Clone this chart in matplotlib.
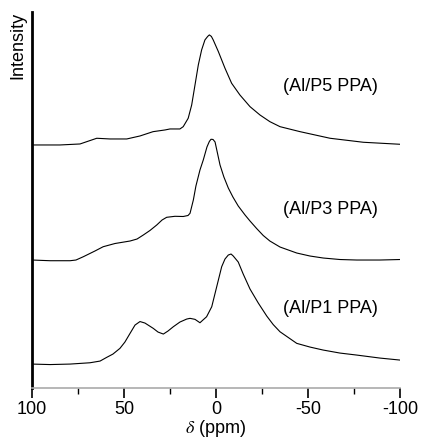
import matplotlib
matplotlib.use("Agg")
import matplotlib.pyplot as plt
from matplotlib.ticker import MultipleLocator

plt.rcParams["font.family"] = ["Liberation Sans", "DejaVu Sans"]
plt.rcParams["mathtext.fontset"] = "stix"
plt.rcParams["axes.unicode_minus"] = False

# chemical shift (ppm) and stacked intensity (arbitrary units, offsets included)
p5_shift = [100, 84.8, 73.9, 64.8, 57.6, 48.5, 41.3, 34.2, 27.7, 25.0, 19.6, 17.8, 15.1,
            13.2, 11.4, 9.6, 7.8, 6.0, 4.5, 3.6, 2.5, 1.5, -1.3, -4.9, -8.5, -13.0, -18.5,
            -23.9, -29.3, -34.8, -45.7, -62.0, -80.1, -100]
p5_int = [243, 243, 244, 249.7, 249, 249, 252, 256.3, 258, 259, 259, 261.3, 269.7,
          283, 303, 323, 338, 348, 351.5, 353, 351.5, 348, 336.3, 319.7, 304.7, 293, 281.3,
          273, 266.3, 261.3, 256.3, 249.7, 245.7, 243.7]

p3_shift = [100, 90.2, 79.3, 76.1, 72.1, 65.8, 61.3, 54.9, 46.7, 42.9, 39.5, 35.9, 32.2,
            29.3, 26.8, 22.3, 17.8, 15.2, 14.1, 12.3, 10.9, 8.7, 6.9, 4.9, 3.6, 2.7, 1.6,
            0.5, -2.2, -4.3, -6.7, -9.2, -12.1, -15.8, -18.5, -22.1, -25.7, -29.3, -34.8,
            -43.9, -51.1, -58.3, -67.4, -76.5, -89.1, -100]
p3_int = [128, 127.3, 127.3, 128, 131.3, 137, 141.3, 144.5, 147, 149, 153, 157.5, 163,
          168, 170.7, 171.7, 171.5, 172.5, 174.7, 188, 202, 218, 228, 241, 246.5, 248.7, 248.5,
          246, 223, 211, 200, 191, 182, 173, 167, 159.5, 152.5, 147, 141,
          135, 132, 130, 128.5, 128, 128, 128.5]

p1_shift = [100, 90.2, 79.3, 68.5, 63, 59.4, 56, 52.2, 49.5, 46.7, 44.0, 41.3, 38.6, 34.1,
            31.5, 28.6, 26.1, 23.2, 19.6, 15.9, 14.1, 11.4, 8.7, 7.1, 5.1, 2.3, -0.4,
            -3.1, -4.9, -6.7, -8.2, -9.4, -12.1, -14.8, -18.5, -23.0, -27.6, -31.1,
            -34.8, -43.9, -51.1, -58.3, -67.4, -76.5, -89.1, -100]
p1_int = [24, 23.5, 24, 25.3, 27, 30.7, 34, 39.7, 46, 54.7, 63, 66.5, 65, 59.7,
          56, 54, 57, 61.3, 66, 69, 69.7, 68.7, 65.3, 68, 71.3, 81.3, 101.3,
          121.3, 129, 133, 134, 132, 126, 114, 99, 85, 72, 63.5,
          56.3, 44.7, 41, 38, 35, 33, 30, 28]

labels = ["(Al/P5 PPA)", "(Al/P3 PPA)", "(Al/P1 PPA)"]
label_pos = [(-62, 301), (-62, 178), (-62, 80)]

fig = plt.figure(figsize=(4.21, 4.41), dpi=100)
ax = fig.add_axes([0.076, 0.120, 0.874, 0.853])

for xs, ys in [(p5_shift, p5_int), (p3_shift, p3_int), (p1_shift, p1_int)]:
    ax.plot(xs, ys, color="black", linewidth=0.8)

for text, (x, y) in zip(labels, label_pos):
    ax.text(x, y, text, fontsize=13, ha="center", va="center")

ax.set_xlim(100, -100)
ax.set_ylim(0, 376)
ax.xaxis.set_major_locator(MultipleLocator(50))
ax.xaxis.set_minor_locator(MultipleLocator(25))
ax.set_yticks([])
ax.tick_params(axis="x", which="major", direction="out", length=7, width=1.2, labelsize=13, pad=2)
ax.tick_params(axis="x", which="minor", direction="out", length=4, width=1.0)

for side in ["top", "right"]:
    ax.spines[side].set_visible(False)
ax.spines["left"].set_linewidth(2)
ax.spines["bottom"].set_color("#aaaaaa")
ax.spines["bottom"].set_linewidth(1.2)

ax.set_xlabel(r"$\delta$ (ppm)", fontsize=13, labelpad=0)
ax.set_ylabel("Intensity", fontsize=13, loc="top", labelpad=4)

fig.savefig("out.png", dpi=100)
